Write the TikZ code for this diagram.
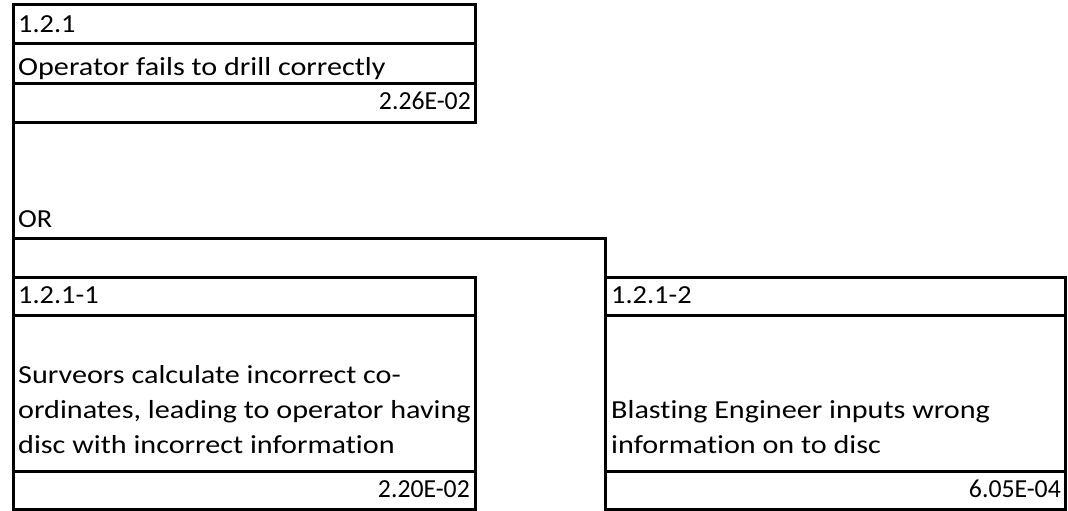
\documentclass[tikz,border=0pt]{standalone}
\usepackage{fontspec}
\setmainfont{Carlito}[Ligatures=NoCommon,FakeStretch=1.16]
\newfontfamily\idfont{Carlito}[FakeStretch=1.09]
\newfontfamily\valfont{Carlito}[FakeStretch=0.99]
\usetikzlibrary{positioning}
\tikzset{
  cell/.style={draw=black,line width=3pt,outer sep=0pt,minimum width=462pt,minimum height=39pt,inner sep=0pt,anchor=north west},
  link/.style={draw=black,line width=3pt},
  txt/.style={inner sep=0pt,font=\fontsize{26}{35}\selectfont},
  idtxt/.style={txt,anchor=base west,font=\fontsize{26}{35}\selectfont\idfont},
  valtxt/.style={txt,anchor=base east,font=\fontsize{26}{35}\selectfont\valfont},
  desctxt/.style={txt,anchor=base west,align=left}
}

\begin{document}
\begin{tikzpicture}[x=1pt,y=-1pt]
  \useasboundingbox (0,0) rectangle (1068,511);

  % top event
  \node[cell] (topid) at (13,5) {};
  \node[cell] (topdesc) at (topid.south west) {};
  \node[cell] (topval) at (topdesc.south west) {};

  % left basic event
  \node[cell,minimum height=38pt] (leftid) at (13,277) {};
  \node[cell,minimum height=156pt] (leftdesc) at (leftid.south west) {};
  \node[cell,minimum height=38pt] (leftval) at (leftdesc.south west) {};

  % right basic event
  \node[cell,minimum width=460pt,minimum height=38pt] (rightid) at (605,277) {};
  \node[cell,minimum width=460pt,minimum height=156pt] (rightdesc) at (rightid.south west) {};
  \node[cell,minimum width=460pt,minimum height=38pt] (rightval) at (rightdesc.south west) {};

  % OR gate lines
  \coordinate (gate) at (13,238);
  \draw[link] (topval.south west) -- (leftid.north west);
  \draw[link] (gate) -| (rightid.north west);

  % texts
  \node[idtxt] (topidtxt) at (18,33) {1.2.1};
  \node[desctxt] (topdesctxt) at (18,75) {Operator fails to drill correctly};
  \node[valtxt] (topvaltxt) at (471,110) {2.26E-02};
  \node[idtxt] (ortxt) at (18,227) {OR};

  \node[idtxt] (leftidtxt) at (18,303) {1.2.1-1};
  \node[desctxt] (leftdesctxt) at (18,453) {Surveors calculate incorrect co-\\ordinates, leading to operator having\\disc with incorrect information};
  \node[valtxt] (leftvaltxt) at (470,497) {2.20E-02};

  \node[idtxt] (rightidtxt) at (611,303) {1.2.1-2};
  \node[desctxt] (rightdesctxt) at (611,453) {Blasting Engineer inputs wrong\\information on to disc};
  \node[valtxt] (rightvaltxt) at (1061,497) {6.05E-04};
\end{tikzpicture}
\end{document}
